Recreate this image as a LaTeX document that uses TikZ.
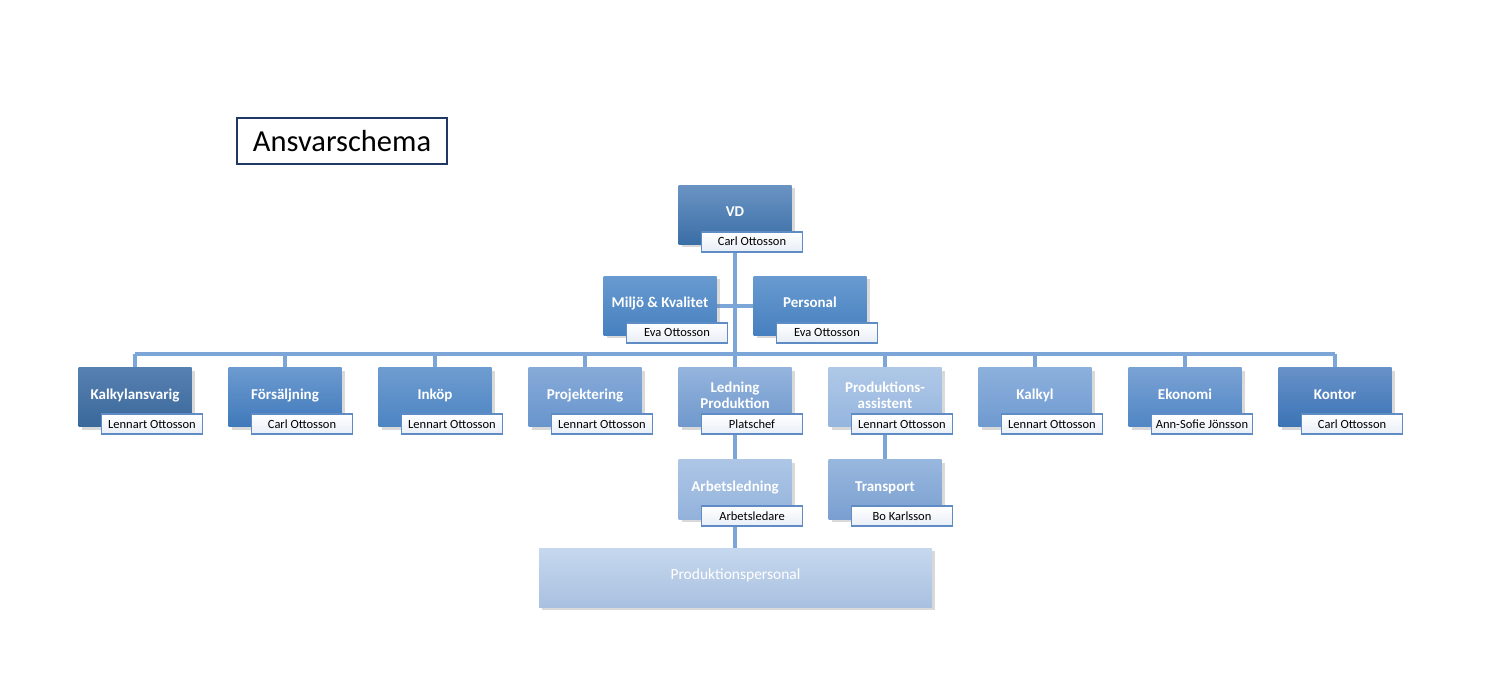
\documentclass[tikz,border=0pt]{standalone}
\usepackage{fontspec}
\setmainfont{Carlito}
\usetikzlibrary{backgrounds,shadows}

\definecolor{linkblue}{RGB}{124,166,216}
\definecolor{holderline}{RGB}{96,140,198}
\definecolor{holderbot}{RGB}{232,238,247}
\definecolor{titlenavy}{RGB}{31,56,100}
% toppfärg / bottenfärg per ruta
\definecolor{vdT}{RGB}{106,147,195}       \definecolor{vdB}{RGB}{58,110,166}
\definecolor{staffT}{RGB}{104,154,208}    \definecolor{staffB}{RGB}{70,128,191}
\definecolor{kalkansvT}{RGB}{86,128,176}  \definecolor{kalkansvB}{RGB}{58,104,155}
\definecolor{forsaljT}{RGB}{108,154,208}  \definecolor{forsaljB}{RGB}{63,121,186}
\definecolor{inkopT}{RGB}{110,156,208}    \definecolor{inkopB}{RGB}{76,132,194}
\definecolor{projektT}{RGB}{134,170,216}  \definecolor{projektB}{RGB}{104,149,205}
\definecolor{ledningT}{RGB}{148,180,221}  \definecolor{ledningB}{RGB}{111,152,204}
\definecolor{prodassT}{RGB}{175,200,231}  \definecolor{prodassB}{RGB}{149,181,222}
\definecolor{kalkylT}{RGB}{140,176,220}   \definecolor{kalkylB}{RGB}{111,154,208}
\definecolor{ekonomiT}{RGB}{122,162,212}  \definecolor{ekonomiB}{RGB}{79,134,196}
\definecolor{kontorT}{RGB}{103,145,200}   \definecolor{kontorB}{RGB}{59,115,181}
\definecolor{arbledT}{RGB}{173,198,230}   \definecolor{arbledB}{RGB}{147,178,219}
\definecolor{transportT}{RGB}{152,183,222}\definecolor{transportB}{RGB}{122,159,208}
\definecolor{prodpersT}{RGB}{198,216,238} \definecolor{prodpersB}{RGB}{169,192,224}

\tikzset{
  unit/.style={rectangle, minimum width=113pt, minimum height=59pt, inner sep=0pt,
    text=white, align=center, font=\fontsize{15}{16}\selectfont\bfseries,
    text height=12pt, text depth=8pt, top color=#1T, bottom color=#1B,
    drop shadow={shadow xshift=3pt, shadow yshift=-3pt, opacity=0.3}},
  twoline/.style={text height=31pt, text depth=8pt},
  holder/.style={rectangle, draw=holderline, line width=1.8pt, top color=white,
    bottom color=holderbot, minimum width=101pt, minimum height=20pt, inner sep=0pt,
    font=\fontsize{12.5}{14}\selectfont},
  link/.style={draw=linkblue, line width=4pt},
}

\begin{document}
\begin{tikzpicture}[x=1pt,y=-1pt]
  \useasboundingbox (0,0) rectangle (1500,700);

  % rubrik
  \node[draw=titlenavy, line width=1.5pt, minimum width=210pt, minimum height=46pt,
    inner sep=0pt, font=\fontsize{30.5}{34}\selectfont] (title) at (342,141) {Ansvarschema};

  % ledning
  \node[unit=vd] (vd) at (735,215) {VD};
  \node[holder] (vdH) at ([xshift=17pt,yshift=3pt]vd.south) {Carl Ottosson};

  \node[unit=staff] (miljo) at (660,306) {Miljö \& Kvalitet};
  \node[holder] (miljoH) at ([xshift=17pt,yshift=3pt]miljo.south) {Eva Ottosson};
  \node[unit=staff] (personal) at (810,306) {Personal};
  \node[holder] (personalH) at ([xshift=17pt,yshift=3pt]personal.south) {Eva Ottosson};

  % avdelningar
  \node[unit=kalkansv] (kalkansv) at (135,397.5) {Kalkylansvarig};
  \node[holder] (kalkansvH) at ([xshift=17pt,yshift=3pt]kalkansv.south) {Lennart Ottosson};
  \node[unit=forsalj] (forsalj) at (285,397.5) {Försäljning};
  \node[holder] (forsaljH) at ([xshift=17pt,yshift=3pt]forsalj.south) {Carl Ottosson};
  \node[unit=inkop] (inkop) at (435,397.5) {Inköp};
  \node[holder] (inkopH) at ([xshift=17pt,yshift=3pt]inkop.south) {Lennart Ottosson};
  \node[unit=projekt] (projekt) at (585,397.5) {Projektering};
  \node[holder] (projektH) at ([xshift=17pt,yshift=3pt]projekt.south) {Lennart Ottosson};
  \node[unit=ledning, twoline] (ledning) at (735,397.5) {Ledning\\Produktion};
  \node[holder] (ledningH) at ([xshift=17pt,yshift=3pt]ledning.south) {Platschef};
  \node[unit=prodass, twoline] (prodass) at (885,397.5) {Produktions-\\assistent};
  \node[holder] (prodassH) at ([xshift=17pt,yshift=3pt]prodass.south) {Lennart Ottosson};
  \node[unit=kalkyl] (kalkyl) at (1035,397.5) {Kalkyl};
  \node[holder] (kalkylH) at ([xshift=17pt,yshift=3pt]kalkyl.south) {Lennart Ottosson};
  \node[unit=ekonomi] (ekonomi) at (1185,397.5) {Ekonomi};
  \node[holder] (ekonomiH) at ([xshift=17pt,yshift=3pt]ekonomi.south) {Ann-Sofie Jönsson};
  \node[unit=kontor] (kontor) at (1335,397.5) {Kontor};
  \node[holder] (kontorH) at ([xshift=17pt,yshift=3pt]kontor.south) {Carl Ottosson};

  % under produktion
  \node[unit=arbled] (arbled) at (735,489.5) {Arbetsledning};
  \node[holder] (arbledH) at ([xshift=17pt,yshift=3pt]arbled.south) {Arbetsledare};
  \node[unit=transport] (transport) at (885,489.5) {Transport};
  \node[holder] (transportH) at ([xshift=17pt,yshift=3pt]transport.south) {Bo Karlsson};

  \node[unit=prodpers, minimum width=393pt, font=\fontsize{15.5}{17}\selectfont]
    (prodpers) at (735.5,577.5) {Produktionspersonal};

  % linjer
  \coordinate (bus) at (735,354);
  \begin{scope}[on background layer]
    \draw[link] (vd.south) -- (ledning.north);
    \draw[link] (miljo.east) -- (personal.west);
    \draw[link] (kalkansv.north |- bus) -- (kontor.north |- bus);
    \draw[link] (kalkansv.north) -- (kalkansv.north |- bus);
    \draw[link] (forsalj.north) -- (forsalj.north |- bus);
    \draw[link] (inkop.north) -- (inkop.north |- bus);
    \draw[link] (projekt.north) -- (projekt.north |- bus);
    \draw[link] (prodass.north) -- (prodass.north |- bus);
    \draw[link] (kalkyl.north) -- (kalkyl.north |- bus);
    \draw[link] (ekonomi.north) -- (ekonomi.north |- bus);
    \draw[link] (kontor.north) -- (kontor.north |- bus);
    \draw[link] (ledning.south) -- (arbled.north);
    \draw[link] (arbled.south) -- (arbled.south |- prodpers.north);
    \draw[link] (prodass.south) -- (transport.north);
  \end{scope}
\end{tikzpicture}
\end{document}
